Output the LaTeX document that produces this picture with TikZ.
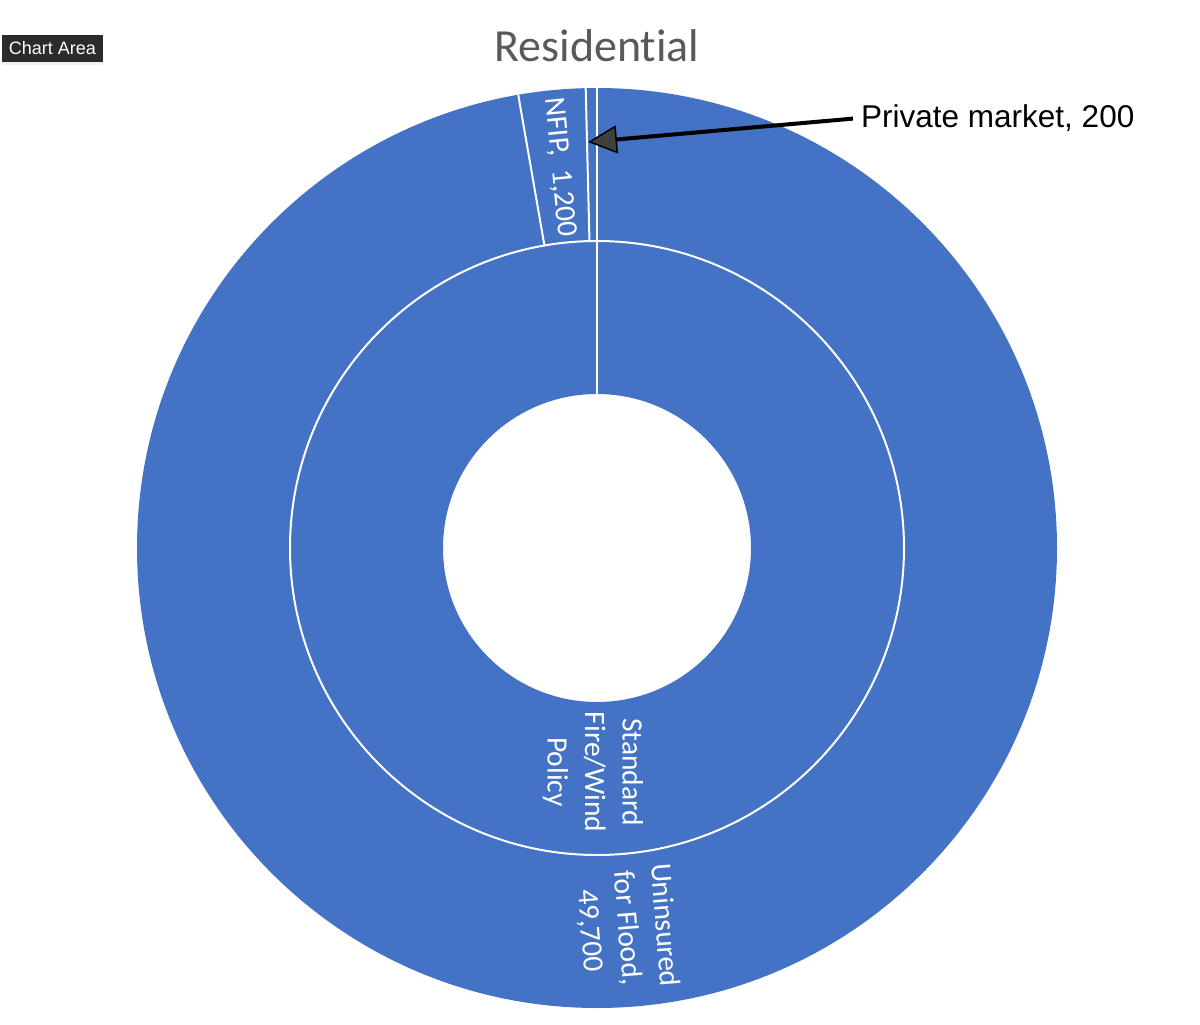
\documentclass[tikz,border=0pt]{standalone}
\usepackage{fontspec}
\setmainfont[Ligatures=NoCommon]{Carlito}
\newfontfamily\arialfont{Liberation Sans}
\usetikzlibrary{calc,arrows.meta,shadows}
\definecolor{sliceblue}{HTML}{4472C4}
\definecolor{titlegray}{HTML}{595959}
\definecolor{tipgray}{HTML}{404040}
\definecolor{tagdark}{HTML}{2B2B2B}

\begin{document}
\begin{tikzpicture}[x=1pt,y=1pt,
  sep/.style={white,line width=2pt},
  slicelabel/.style={text=white,align=center,inner sep=0pt,font=\fontsize{29.5}{37.5}\selectfont}]
  \useasboundingbox (0,0) rectangle (1200,-1025);
  \coordinate (c) at (597,-548);
  % rings
  \fill[sliceblue,even odd rule] (c) circle (460) (c) circle (154);
  \draw[sep] (c) circle (307);
  \foreach \a/\r in {90/154, 91.41/307, 99.86/307}
    \draw[sep] ($(c)+(\a:\r)$) -- ($(c)+(\a:460)$);
  % labels
  \node[slicelabel,rotate=-84.4] (nfip) at ($(c)+(95.6:383)$) {NFIP,~ 1,200};
  \node[slicelabel,rotate=-90] (policy) at (593,-772) {Standard\\Fire/Wind\\Policy};
  \node[slicelabel,rotate=-85.5] (uninsured) at (627,-928) {Uninsured\\for Flood,\\49,700};
  \node[anchor=base,text=titlegray,font=\fontsize{46}{55}\selectfont] (title) at (597,-62) {Residential};
  \node[anchor=base west,inner sep=0pt,font=\arialfont\fontsize{31.5}{38}\selectfont] (private) at (861,-128) {Private market, 200};
  \coordinate (privtip) at (588,-142);
  \draw[line width=4pt,-{Triangle[length=29pt,width=28pt,fill=tipgray,line width=1.5pt]}] ([xshift=-8pt]private.west) -- (privtip);
  \node[fill=tagdark,text=white,inner sep=0pt,minimum width=101pt,minimum height=27pt,
    font=\arialfont\fontsize{18}{21}\selectfont,
    drop shadow={opacity=0.12,shadow xshift=0pt,shadow yshift=-3pt}] (tag) at (52.5,-48.5) {Chart Area};
\end{tikzpicture}
\end{document}
